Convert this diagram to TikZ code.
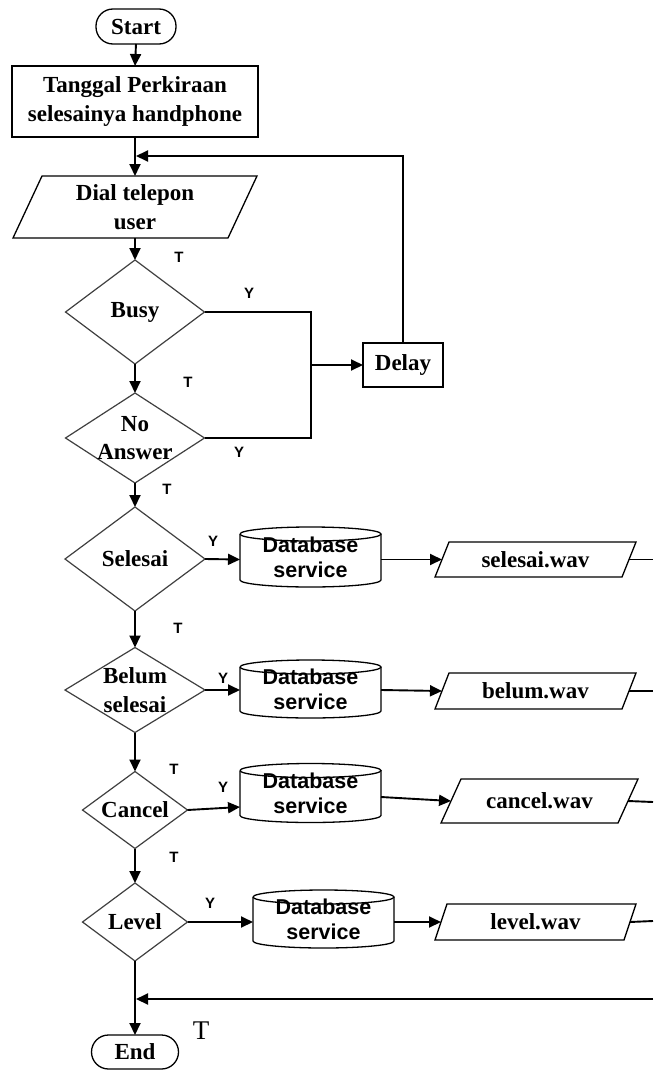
\documentclass[tikz,border=0pt]{standalone}
\usepackage{fontspec}
\setmainfont{Liberation Serif}
\newfontfamily\sansf{Liberation Sans}
\usetikzlibrary{shapes.geometric,arrows.meta}
\newcommand\mySerifB{\fontsize{23}{28.5}\selectfont\bfseries}
\newcommand\myDbFont{\sansf\fontsize{21.5}{25}\selectfont\bfseries}
\newcommand\myLabFont{\sansf\fontsize{15}{17}\selectfont\bfseries}
\newcommand\myBigT{\fontsize{27}{30}\selectfont}
\tikzset{
  shp/.style={draw=black, line width=1.3pt, inner sep=0pt, outer sep=0pt},
  term/.style={shp, rounded corners=17pt, font=\mySerifB},
  proc/.style={shp, font=\mySerifB, align=center},
  dec/.style={draw=black!75, line width=1.2pt, diamond, inner sep=0pt, outer sep=0pt},
  txt/.style={inner sep=0pt, outer sep=0pt, align=center, font=\mySerifB},
  dbt/.style={inner sep=0pt, outer sep=0pt, align=center, font=\myDbFont},
  lab/.style={font=\myLabFont, inner sep=0pt},
  conn/.style={line width=1.9pt, -{Triangle[length=12pt,width=11pt]}},
  plain/.style={line width=1.9pt},
}
% parallelogram: name, pos, W, H, slant, text
\newcommand\myPara[6]{%
  \node[txt, minimum width=#3pt, minimum height=#4pt] (#1) at (#2) {#6};
  \draw[shp] ([xshift=#5pt]#1.north west) -- (#1.north east) -- ([xshift=-#5pt]#1.south east) -- (#1.south west) -- cycle;
  \coordinate (#1-l) at ([xshift=#5pt/2]#1.west);
  \coordinate (#1-r) at ([xshift=-#5pt/2]#1.east);
}
% cylinder: name, pos, W, halfW, H
\newcommand\myCyl[5]{%
  \node[dbt, minimum width=#3pt, minimum height=#5pt] (#1) at (#2) {Database\\service};
  \draw[shp] ([yshift=-7pt]#1.north west) arc[start angle=180,end angle=-180,x radius=#4pt,y radius=7pt];
  \draw[shp] ([yshift=-7pt]#1.north west) -- ([yshift=7pt]#1.south west) arc[start angle=180,end angle=360,x radius=#4pt,y radius=7pt] -- ([yshift=-7pt]#1.north east);
}
\begin{document}
\begin{tikzpicture}[x=1pt,y=-1pt]
\useasboundingbox (0,0) rectangle (653,1070);
\fill[white] (0,0) rectangle (653,1070);

% main column
\node[term, minimum width=80pt, minimum height=35pt] (start) at (136,26.5) {Start};
\node[proc, minimum width=246pt, minimum height=71pt] (tgl) at (135,101.5) {Tanggal Perkiraan\\selesainya handphone};
\myPara{dial}{135,207}{244}{62}{29}{Dial telepon\\user}

\node[dec, minimum width=139pt, minimum height=104pt] (busy) at (135,312) {};
\node[txt] (busyt) at (busy) {Busy};
\node[dec, minimum width=139pt, minimum height=90pt] (noans) at (135,438) {};
\node[txt] (noanst) at (noans) {No\\Answer};
\node[shp, font=\mySerifB, minimum width=80pt, minimum height=44pt] (delay) at (403,365) {Delay};

\node[dec, minimum width=140pt, minimum height=104pt] (sel) at (135,559) {};
\node[txt] (selt) at (sel) {Selesai};
\node[dec, minimum width=140pt, minimum height=85pt] (belum) at (135,690) {};
\node[txt] (belumt) at (belum) {Belum\\selesai};
\node[dec, minimum width=105pt, minimum height=77pt] (cancel) at (135,810) {};
\node[txt] (cancelt) at (cancel) {Cancel};
\node[dec, minimum width=105pt, minimum height=78pt] (level) at (135,922) {};
\node[txt] (levelt) at (level) {Level};
\node[term, minimum width=87pt, minimum height=34pt] (end) at (135,1052) {End};

% database cylinders
\myCyl{db1}{310.5,557}{141}{70.5}{60}
\myCyl{db2}{310.5,689}{141}{70.5}{58}
\myCyl{db3}{310.5,793}{141}{70.5}{59}
\myCyl{db4}{323.5,919}{141}{70.5}{58}

% wav parallelograms
\myPara{w1}{535.5,559.5}{201}{35}{14}{selesai.wav}
\myPara{w2}{535.5,691}{201}{36}{14}{belum.wav}
\myPara{w3}{539.5,801}{197}{44}{20}{cancel.wav}
\myPara{w4}{535.5,922}{201}{36}{12}{level.wav}

% coordinates
\coordinate (fb) at (136,156);
\coordinate (j) at (311,365);
\coordinate (o1) at (653,559.5);
\coordinate (o2) at (653,691);
\coordinate (o3) at (653,802);
\coordinate (o4) at (653,921);
\coordinate (rb) at (653,999);
\coordinate (mb) at (136,999);

% connectors main column
\draw[conn] (start.south) -- (tgl.north);
\draw[conn] (tgl.south) -- (dial.north);
\draw[conn] (dial.south) -- (busy.north);
\draw[conn] (busy.south) -- (noans.north);
\draw[conn] (noans.south) -- (sel.north);
\draw[conn] (sel.south) -- (belum.north);
\draw[conn] (belum.south) -- (cancel.north);
\draw[conn] (cancel.south) -- (level.north);
\draw[conn] (level.south) -- (end.north);

% loop
\draw[plain] (busy.east) -| (j);
\draw[plain] (noans.east) -| (j);
\draw[conn] (j) -- (delay.west);
\draw[conn] (delay.north) |- (fb);

% rows
\draw[conn] (sel.east) -- ([yshift=-2.5pt]db1.west);
\draw[conn] ([yshift=-2.5pt]db1.east) -- (w1-l);
\draw[plain] (w1-r) -- (o1);
\draw[conn] (belum.east) -- ([yshift=-1pt]db2.west);
\draw[conn] ([yshift=-1pt]db2.east) -- (w2-l);
\draw[plain] (w2-r) -- (o2);
\draw[conn] (cancel.east) -- ([yshift=-14pt]db3.west);
\draw[conn] ([yshift=-4pt]db3.east) -- (w3-l);
\draw[plain] (w3-r) -- (o3);
\draw[conn] (level.east) -- ([yshift=-3pt]db4.west);
\draw[conn] ([yshift=-3pt]db4.east) -- (w4-l);
\draw[plain] (w4-r) -- (o4);
\draw[conn] (rb) -- (mb);

% labels
\node[lab] (t1) at (179,257) {T};
\node[lab] (y1) at (249,293) {Y};
\node[lab] (t2) at (188,382) {T};
\node[lab] (y2) at (239,452) {Y};
\node[lab] (t3) at (167,489) {T};
\node[lab] (y3) at (213,541) {Y};
\node[lab] (t4) at (178,628) {T};
\node[lab] (y4) at (223,678) {Y};
\node[lab] (t5) at (174,769) {T};
\node[lab] (y5) at (223,787) {Y};
\node[lab] (t6) at (174,857) {T};
\node[lab] (y6) at (210,903) {Y};
\node[font=\myBigT, inner sep=0pt] (tbig) at (201,1031) {T};
\end{tikzpicture}
\end{document}
